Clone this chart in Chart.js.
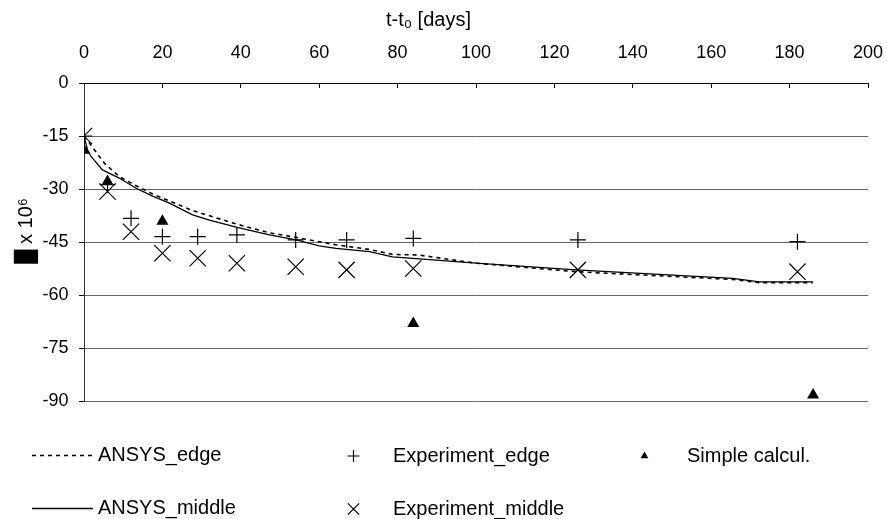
<!DOCTYPE html>
<html><head><meta charset="utf-8">
<script src="https://cdn.jsdelivr.net/npm/chart.js@4/dist/chart.umd.min.js"></script>
<style>html,body{margin:0;padding:0;background:#fff}</style>
</head><body>
<canvas id="c" width="887" height="519"></canvas>
<script>
// ---- data ----
const xTitle = 't-t\u2080 [days]  ';
const yTitle = '    \u2588 x 10\u2076';
const xTicks = [0, 20, 40, 60, 80, 100, 120, 140, 160, 180, 200];
const yTicks = [0, -15, -30, -45, -60, -75, -90];

const ansysEdgeDays = [0, 1.4, 5.2, 9, 13.3, 17.5, 27.7, 38.8, 47.3, 54.1, 64.3, 72.8, 78.7, 85.5, 100, 125.5, 165.5, 172.3, 185.9];
const ansysEdgeVals = [-15, -17, -22.7, -26.5, -29.1, -31.4, -36.1, -39.9, -42.4, -43.7, -45.8, -47.1, -48.5, -48.7, -51.0, -53.4, -55.6, -56.5, -56.5];

const ansysMiddleDays = [0, 0.9, 1.8, 4.7, 9, 13.3, 17.5, 21.8, 27.7, 32, 38.8, 47.3, 54.1, 60, 64.3, 72.8, 78.7, 100, 125.5, 165.5, 172.3, 185.9];
const ansysMiddleVals = [-15, -18.9, -20.8, -24.6, -26.9, -29.8, -32.0, -34.0, -37.3, -38.8, -40.8, -43.0, -44.4, -46.1, -46.8, -47.7, -49.2, -51.0, -52.9, -55.3, -56.3, -56.3];

const expDays = [0, 6, 12, 20, 29, 39, 54, 67, 84, 126, 182];
const expEdgeVals = [-15, -28.8, -38.3, -43.5, -43.5, -43.0, -44.4, -44.4, -44.0, -44.4, -44.9];
const expMiddleVals = [-15, -30.7, -42.1, -48.2, -49.6, -51.0, -52.0, -52.9, -52.5, -52.9, -53.4];

const simpleDays = [0, 6, 20, 84, 186];
const simpleVals = [-19, -27.9, -39.1, -68.1, -88.3];

const seriesNames = ['ANSYS_edge', 'ANSYS_middle', 'Experiment_edge', 'Experiment_middle', 'Simple calcul.'];

function pts(xs, ys) { return xs.map((x, i) => ({ x: x, y: ys[i] })); }

const FONT = '"Liberation Sans", Arial, sans-serif';
Chart.defaults.font.family = FONT;
Chart.defaults.color = '#000';

// custom legend (two rows, column-major like the original)
const legendLayout = [
  { ds: 0, x: 32, y: 455, kind: 'line', tx: 98 },
  { ds: 1, x: 32, y: 508, kind: 'line', tx: 98 },
  { ds: 2, x: 353.5, y: 456, kind: 'point', r: 6, tx: 393 },
  { ds: 3, x: 353.5, y: 509, kind: 'point', r: 8, tx: 393 },
  { ds: 4, x: 644.5, y: 456, kind: 'point', r: 4.5, tx: 687 }
];
const customLegend = {
  id: 'customLegend',
  afterDraw(chart) {
    const ctx = chart.ctx;
    ctx.save();
    ctx.font = '20px ' + FONT;
    ctx.textBaseline = 'middle';
    ctx.fillStyle = '#000';
    legendLayout.forEach(it => {
      const ds = chart.data.datasets[it.ds];
      if (it.kind === 'line') {
        ctx.save();
        ctx.strokeStyle = ds.borderColor;
        ctx.lineWidth = ds.borderWidth;
        ctx.setLineDash(ds.borderDash || []);
        ctx.beginPath();
        ctx.moveTo(it.x, it.y + 0.5);
        ctx.lineTo(it.x + 61, it.y + 0.5);
        ctx.stroke();
        ctx.restore();
      } else {
        ctx.save();
        ctx.strokeStyle = ds.pointBorderColor;
        ctx.fillStyle = ds.pointBackgroundColor;
        ctx.lineWidth = ds.pointBorderWidth;
        Chart.helpers.drawPoint(ctx, { pointStyle: ds.pointStyle, radius: it.r, rotation: 0, borderWidth: ds.pointBorderWidth }, it.x, it.y);
        ctx.restore();
      }
      ctx.fillStyle = '#000';
      ctx.fillText(ds.label, it.tx, it.y);
    });
    ctx.restore();
  }
};

new Chart(document.getElementById('c'), {
  type: 'scatter',
  data: {
    datasets: [
      { label: seriesNames[0], data: pts(ansysEdgeDays, ansysEdgeVals), showLine: true, borderColor: '#000', borderWidth: 1.6, borderDash: [4, 4], pointRadius: 0, pointHoverRadius: 0, tension: 0, order: 5 },
      { label: seriesNames[1], data: pts(ansysMiddleDays, ansysMiddleVals), showLine: true, borderColor: '#000', borderWidth: 1.3, pointRadius: 0, pointHoverRadius: 0, tension: 0, order: 4 },
      { label: seriesNames[2], data: pts(expDays, expEdgeVals), pointStyle: 'cross', pointRadius: 8, pointBorderColor: '#000', pointBackgroundColor: 'rgba(0,0,0,0)', pointBorderWidth: 1.2, order: 3 },
      { label: seriesNames[3], data: pts(expDays, expMiddleVals), pointStyle: 'crossRot', pointRadius: 11.5, pointBorderColor: '#000', pointBackgroundColor: 'rgba(0,0,0,0)', pointBorderWidth: 1.2, order: 2 },
      { label: seriesNames[4], data: pts(simpleDays, simpleVals), pointStyle: 'triangle', pointRadius: 7, pointBorderColor: '#000', pointBackgroundColor: '#000', pointBorderWidth: 0, order: 1 }
    ]
  },
  options: {
    responsive: false,
    animation: false,
    devicePixelRatio: 1,
    layout: { padding: { left: 0, right: 19, top: 0, bottom: 118 } },
    plugins: {
      legend: { display: false },
      tooltip: { enabled: false },
      title: { display: true, text: xTitle, font: { size: 20, weight: 'normal' }, color: '#000', padding: { top: 8, bottom: 0 } }
    },
    scales: {
      x: {
        type: 'linear', position: 'top', min: 0, max: 200,
        afterBuildTicks: s => { s.ticks = xTicks.map(v => ({ value: v })); },
        afterFit: s => { s.height = 51; s.paddingLeft = 0; s.paddingRight = 0; },
        ticks: { font: { size: 18 }, color: '#000', padding: 24.5, maxRotation: 0, autoSkip: false },
        grid: { drawOnChartArea: false, drawTicks: true, tickLength: -5, tickColor: '#000', color: '#000' },
        border: { display: true, color: '#000', width: 1 }
      },
      y: {
        type: 'linear', min: -90, max: 0,
        afterBuildTicks: s => { s.ticks = yTicks.map(v => ({ value: v })); },
        afterFit: s => { s.width = 84; s.paddingTop = 0; s.paddingBottom = 0; },
        ticks: { font: { size: 18 }, color: '#000', padding: 10.5, autoSkip: false },
        grid: { color: '#666', lineWidth: 1, drawTicks: true, tickLength: 5, tickColor: '#000' },
        border: { display: true, color: '#333', width: 1 },
        title: { display: true, text: yTitle, font: { size: 20 }, color: '#000', padding: { top: 14, bottom: 0 } }
      }
    }
  },
  plugins: [customLegend]
});
</script>
</body></html>
